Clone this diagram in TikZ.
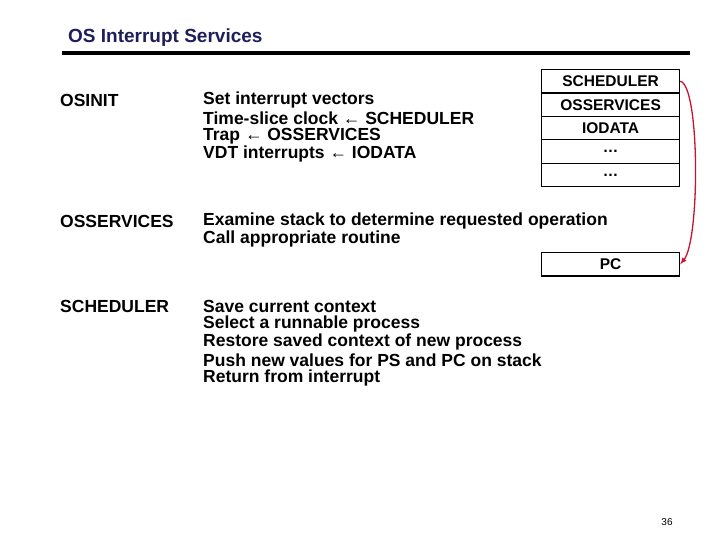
\documentclass[tikz,border=0pt]{standalone}
\usepackage{fontspec}
\setmainfont{Liberation Sans}
\definecolor{arrowred}{RGB}{200,20,50}
\definecolor{titleblue}{RGB}{30,30,90}
\begin{document}
\begin{tikzpicture}[x=1pt,y=-1pt,
  txt/.style={anchor=west,inner sep=0pt,font=\bfseries\fontsize{17.5}{18}\selectfont},
  cell/.style={draw,line width=1.2pt,minimum width=138pt,minimum height=23.4pt,inner sep=0pt,anchor=north west,font=\bfseries\fontsize{15.5}{16}\selectfont}]
\useasboundingbox (0,0) rectangle (720,540);
\node[anchor=west,inner sep=0pt,font=\bfseries\fontsize{19}{20}\selectfont,text=titleblue] (title) at (68,38) {OS Interrupt Services};
\draw[line width=4pt] (62,53) -- (690,53);
\node[txt] (osinit) at (60,100) {OSINIT};
\node[txt] (l1) at (203,100) {Set interrupt vectors};
\node[txt] (l2) at (203,118) {Time-slice clock ← SCHEDULER};
\node[txt] (l3) at (203,136) {Trap ← OSSERVICES};
\node[txt] (l4) at (203,154) {VDT interrupts ← IODATA};
\node[cell] (c1) at (541,69) {SCHEDULER};
\node[cell] (c2) at (541,92.4) {OSSERVICES};
\node[cell] (c3) at (541,115.8) {IODATA};
\node[cell] (c4) at (541,139.2) {\dots};
\node[cell] (c5) at (541,162.6) {\dots};
\node[txt] (oss) at (60,221) {OSSERVICES};
\node[txt] (m1) at (203,221) {Examine stack to determine requested operation};
\node[txt] (m2) at (203,239) {Call appropriate routine};
\node[cell] (pc) at (541,252) {PC};
\node[txt] (sch) at (60,306) {SCHEDULER};
\node[txt] (s1) at (203,306) {Save current context};
\node[txt] (s2) at (203,324) {Select a runnable process};
\node[txt] (s3) at (203,342) {Restore saved context of new process};
\node[txt] (s4) at (203,360) {Push new values for PS and PC on stack};
\node[txt] (s5) at (203,378) {Return from interrupt};
\draw[line width=1.3pt,arrowred,-latex] (c1.east) .. controls (700,85) and (700,240) .. (pc.east);
\node[anchor=center,inner sep=0pt,font=\fontsize{10}{10}\selectfont] (pg) at (667,522) {36};
\end{tikzpicture}
\end{document}
